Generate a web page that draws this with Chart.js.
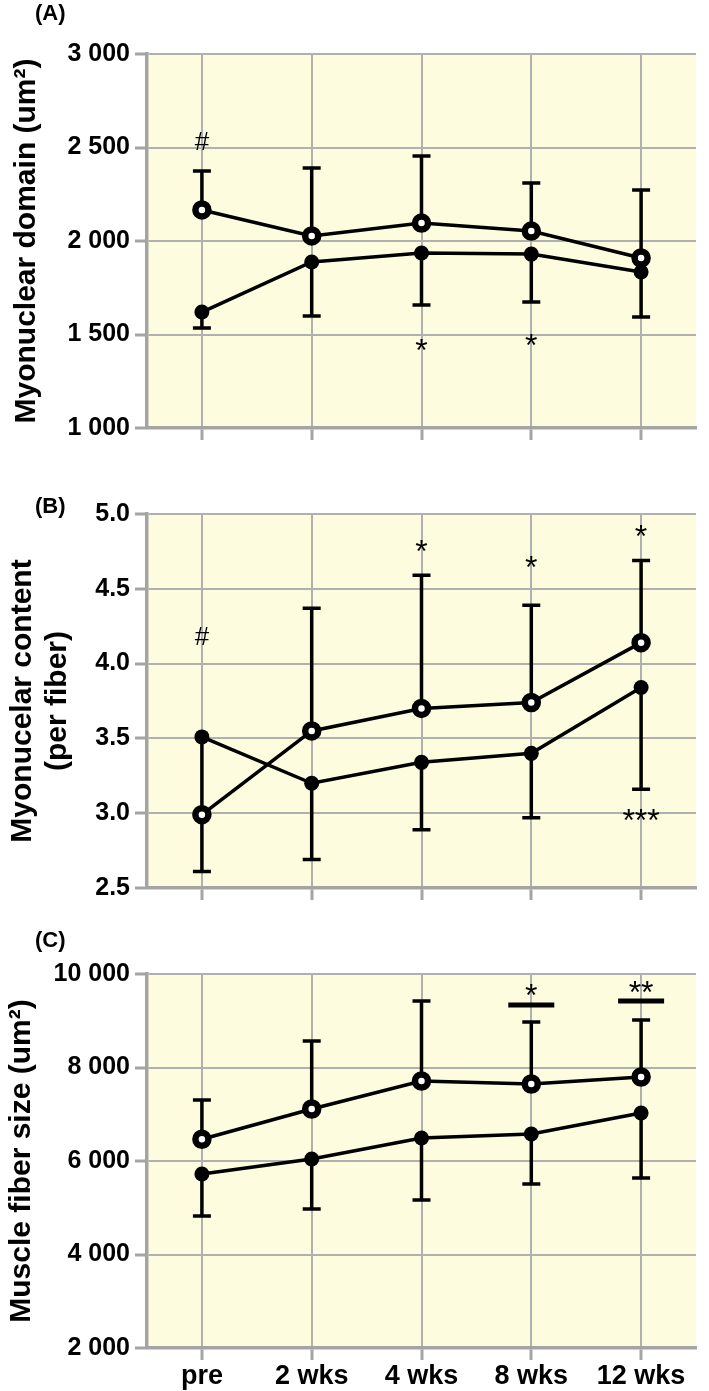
<!DOCTYPE html>
<html>
<head>
<meta charset="utf-8">
<script src="https://cdn.jsdelivr.net/npm/chart.js@4.4.1/dist/chart.umd.min.js"></script>
<style>
  body { margin: 0; background: #fff; width: 709px; height: 1391px; position: relative; overflow: hidden; font-family: "Liberation Sans", Arial, sans-serif; }
  .panel { position: absolute; left: 0; width: 709px; }
  .tag { position: absolute; left: 35px; font-weight: bold; font-size: 22px; line-height: 22px; }
</style>
</head>
<body>
<div class="panel" style="top:0;height:460px"><canvas id="chartA" width="709" height="460"></canvas></div>
<div class="panel" style="top:460px;height:460px"><canvas id="chartB" width="709" height="460"></canvas></div>
<div class="panel" style="top:920px;height:471px"><canvas id="chartC" width="709" height="471"></canvas></div>
<div class="tag" style="top:2px">(A)</div>
<div class="tag" style="top:495px">(B)</div>
<div class="tag" style="top:929px">(C)</div>

<script>
const weeks = ['pre', '2 wks', '4 wks', '8 wks', '12 wks'];

// (A) myonuclear domain
const domainOpen = [2166, 2027, 2096, 2053, 1909];
const domainOpenUp = [2374, 2390, 2455, 2310, 2273];
const domainFilled = [1620, 1888, 1936, 1930, 1834];
const domainFilledDown = [1535, 1599, 1658, 1674, 1594];
const domainMarks = [
  { at: 'pre', y: 2524, text: '#' },
  { at: '4 wks', y: 1444, text: '*' },
  { at: '8 wks', y: 1471, text: '*' }
];

// (B) myonuclear content
const contentOpen = [2.99, 3.55, 3.70, 3.74, 4.14];
const contentOpenUp = [null, 4.37, 4.59, 4.39, 4.69];
const contentFilled = [3.51, 3.20, 3.34, 3.40, 3.84];
const contentFilledDown = [2.61, 2.69, 2.89, 2.97, 3.16];
const contentMarks = [
  { at: 'pre', y: 4.17, text: '#' },
  { at: '4 wks', y: 4.79, text: '*' },
  { at: '8 wks', y: 4.68, text: '*' },
  { at: '12 wks', y: 4.89, text: '*' },
  { at: '12 wks', y: 2.99, text: '***' }
];

// (C) muscle fiber size
const sizeOpen = [6465, 7112, 7711, 7647, 7797];
const sizeOpenUp = [7305, 8567, 9422, 8973, 9016];
const sizeFilled = [5722, 6043, 6492, 6578, 7027];
const sizeFilledDown = [4823, 4973, 5166, 5508, 5636];
const sizeMarks = [
  { at: '8 wks', y: 9658, text: '*' },
  { at: '12 wks', y: 9722, text: '**' }
];
const sizeBars = [
  { at: '8 wks', y: 9337 },
  { at: '12 wks', y: 9422 }
];

Chart.defaults.font.family = '"Liberation Sans", Arial, sans-serif';

const thousands = v => String(v).replace(/\B(?=(\d{3})+(?!\d))/g, ' ');

const background = {
  id: 'background',
  beforeDraw(chart) {
    const { ctx, chartArea: a } = chart;
    ctx.save();
    ctx.fillStyle = '#fefcdf';
    ctx.fillRect(a.left, a.top, a.right - a.left, a.bottom - a.top);
    ctx.restore();
  }
};

const errorBars = {
  id: 'errorBars',
  beforeDatasetsDraw(chart) {
    const { ctx, scales: { y } } = chart;
    ctx.save();
    ctx.strokeStyle = '#000';
    ctx.lineWidth = 3.5;
    chart.data.datasets.forEach((ds, i) => {
      if (!ds.errTo) return;
      chart.getDatasetMeta(i).data.forEach((pt, j) => {
        const end = ds.errTo[j];
        if (end == null) return;
        const yEnd = y.getPixelForValue(end);
        ctx.beginPath();
        ctx.moveTo(pt.x, pt.y);
        ctx.lineTo(pt.x, yEnd);
        ctx.moveTo(pt.x - 9, yEnd);
        ctx.lineTo(pt.x + 9, yEnd);
        ctx.stroke();
      });
    });
    ctx.restore();
  }
};

const marks = {
  id: 'marks',
  afterDatasetsDraw(chart, args, opts) {
    const { ctx, scales: { x, y } } = chart;
    ctx.save();
    ctx.fillStyle = '#000';
    ctx.strokeStyle = '#000';
    ctx.textAlign = 'center';
    ctx.textBaseline = 'middle';
    (opts.items || []).forEach(m => {
      const px = x.getPixelForValue(weeks.indexOf(m.at));
      const py = y.getPixelForValue(m.y);
      const size = m.text === '#' ? 26 : 32;
      ctx.font = size + 'px "Liberation Sans", Arial, sans-serif';
      ctx.fillText(m.text, px, py + (m.text === '#' ? 0 : size * 0.23));
    });
    ctx.lineWidth = 5;
    (opts.bars || []).forEach(b => {
      const px = x.getPixelForValue(weeks.indexOf(b.at));
      const py = y.getPixelForValue(b.y);
      ctx.beginPath();
      ctx.moveTo(px - 23, py);
      ctx.lineTo(px + 23, py);
      ctx.stroke();
    });
    ctx.restore();
  }
};

function panel(id, p) {
  return new Chart(document.getElementById(id), {
    type: 'line',
    data: {
      labels: weeks,
      datasets: [
        {
          data: p.open, errTo: p.openUp,
          borderColor: '#000', borderWidth: 3.5,
          pointRadius: 6.5, pointBorderWidth: 6.5,
          pointBackgroundColor: '#fff', pointBorderColor: '#000'
        },
        {
          data: p.filled, errTo: p.filledDown,
          borderColor: '#000', borderWidth: 3.5,
          pointRadius: 7.5, pointBorderWidth: 0,
          pointBackgroundColor: '#000', pointBorderColor: '#000'
        }
      ]
    },
    options: {
      responsive: false,
      animation: false,
      layout: { padding: { top: 54, right: 7, bottom: 0, left: 0 } },
      plugins: {
        legend: { display: false },
        tooltip: { enabled: false },
        marks: { items: p.marks, bars: p.bars || [] }
      },
      scales: {
        x: {
          offset: true,
          grid: { color: '#b0b0b0', lineWidth: 2, offset: false, tickLength: 12, tickColor: '#a4a4a4', tickWidth: 3 },
          border: { color: '#a4a4a4', width: 3.5 },
          ticks: { display: p.showX, color: '#000', padding: 0, font: { size: 27, weight: 'bold' } },
          afterFit: s => { s.height = p.xHeight; }
        },
        y: {
          min: p.min, max: p.max,
          ticks: { stepSize: p.step, callback: p.fmt, color: '#000', padding: 5, font: { size: 25, weight: 'bold' } },
          grid: { color: '#b0b0b0', lineWidth: 2, tickLength: 12, tickColor: '#a4a4a4', tickWidth: 3 },
          border: { color: '#a4a4a4', width: 3.5 },
          title: {
            display: true, text: p.title, color: '#000',
            font: { size: 30, weight: 'bold', lineHeight: 1.17 },
            padding: { top: p.titlePad, bottom: 0 }
          },
          afterFit: s => { s.width = 147; }
        }
      }
    },
    plugins: [background, errorBars, marks]
  });
}

panel('chartA', {
  open: domainOpen, openUp: domainOpenUp, filled: domainFilled, filledDown: domainFilledDown,
  marks: domainMarks, min: 1000, max: 3000, step: 500, fmt: thousands,
  title: 'Myonuclear domain (um²)', titlePad: 9, showX: false, xHeight: 32
});

panel('chartB', {
  open: contentOpen, openUp: contentOpenUp, filled: contentFilled, filledDown: contentFilledDown,
  marks: contentMarks, min: 2.5, max: 5.0, step: 0.5, fmt: v => v.toFixed(1),
  title: ['Myonucelar content', '(per fiber)'], titlePad: 5, showX: false, xHeight: 32
});

panel('chartC', {
  open: sizeOpen, openUp: sizeOpenUp, filled: sizeFilled, filledDown: sizeFilledDown,
  marks: sizeMarks, bars: sizeBars, min: 2000, max: 10000, step: 2000, fmt: thousands,
  title: 'Muscle fiber size (um²)', titlePad: 4, showX: true, xHeight: 43
});
</script>
</body>
</html>
